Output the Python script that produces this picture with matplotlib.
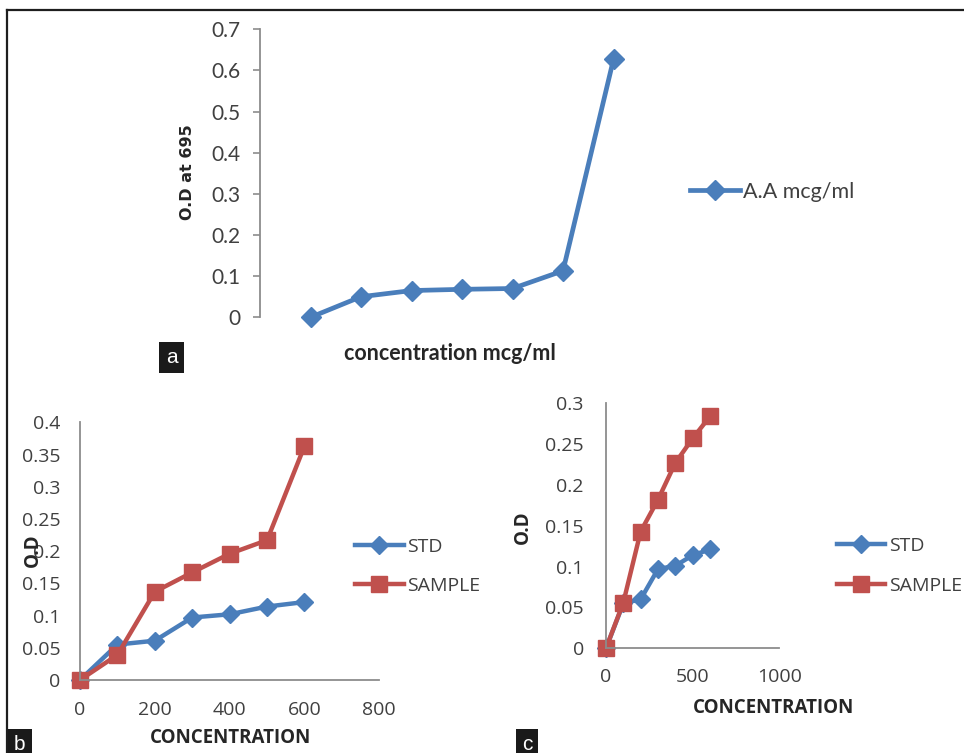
import matplotlib
matplotlib.use('Agg')
import matplotlib.pyplot as plt
from matplotlib.lines import Line2D

# ---- data -------------------------------------------------------------------
# panel a: A.A standard curve (7 points, evenly spaced)
a_x = [1, 2, 3, 4, 5, 6, 7]
a_od = [0.0, 0.050, 0.065, 0.068, 0.070, 0.113, 0.627]

# panel b
b_conc = [0, 100, 200, 300, 400, 500, 600]
b_std = [0.0, 0.055, 0.061, 0.097, 0.102, 0.114, 0.121]
b_sample = [0.0, 0.039, 0.137, 0.167, 0.196, 0.217, 0.363]

# panel c
c_conc = [0, 100, 200, 300, 400, 500, 600]
c_std = [0.0, 0.055, 0.060, 0.097, 0.101, 0.114, 0.121]
c_sample = [0.0, 0.056, 0.143, 0.182, 0.227, 0.257, 0.284]

a_yticks = [0, 0.1, 0.2, 0.3, 0.4, 0.5, 0.6, 0.7]
a_yticklabels = ['0', '0.1', '0.2', '0.3', '0.4', '0.5', '0.6', '0.7']
b_yticks = [0, 0.05, 0.1, 0.15, 0.2, 0.25, 0.3, 0.35, 0.4]
b_yticklabels = ['0', '0.05', '0.1', '0.15', '0.2', '0.25', '0.3', '0.35', '0.4']
b_xticks = [0, 200, 400, 600, 800]
c_yticks = [0, 0.05, 0.1, 0.15, 0.2, 0.25, 0.3]
c_yticklabels = ['0', '0.05', '0.1', '0.15', '0.2', '0.25', '0.3']
c_xticks = [0, 500, 1000]

blue = '#4a7ebb'
red = '#c0504d'
axcol = '#8c8c8c'
txtcol = '#404040'

narrow = ['Lato', 'DejaVu Sans']
wide = ['Open Sans', 'DejaVu Sans']

W, H = 964, 753
fig = plt.figure(figsize=(W / 100, H / 100), dpi=100)


def box(l, t, r, b):
    # pixel box -> figure fraction rect
    return [l / W, 1 - b / H, (r - l) / W, (b - t) / H]


# ---- panel a -------------------------------------------------------------------
ax = fig.add_axes(box(260, 29.3, 664, 317.3))
ax.plot(a_x, a_od, c=blue, lw=3.4, marker='D', ms=10, mfc=blue, mec=blue,
        clip_on=False, label='A.A mcg/ml')
ax.set_xlim(0, 8)
ax.set_ylim(0, 0.7)
ax.set_yticks(a_yticks)
ax.set_yticklabels(a_yticklabels, family=narrow, fontsize=15, color=txtcol)
ax.set_xticks([])
for s in ['top', 'right', 'bottom']:
    ax.spines[s].set_visible(False)
ax.spines['left'].set_color(axcol)
ax.spines['left'].set_linewidth(1.3)
ax.tick_params(axis='y', direction='out', length=5, width=1.2, color=axcol, pad=9)
ax.set_xlabel('concentration mcg/ml', family=narrow, fontsize=15.5, fontweight='bold',
              color='#262626')
ax.xaxis.set_label_coords(0.47, -0.127)
ax.xaxis.label.set_verticalalignment('center')
ax.set_ylabel('O.D at 695', family='DejaVu Sans', fontsize=11.5, fontweight='bold',
              color='#262626')
ax.yaxis.set_label_coords(-0.18, 0.505)
ax.yaxis.label.set_verticalalignment('center')
fig.legend(handles=ax.get_lines(), loc='center left', bbox_to_anchor=(690 / W, 1 - 192 / H),
           frameon=False, borderpad=0, borderaxespad=0, handlelength=2.3,
           handletextpad=0.15, prop={'family': narrow, 'size': 15.5}, labelcolor=txtcol)


def panel(rect, conc, std, sample, xticks, xlim, yticks, yticklabels, ylim,
          xlab_xy, ylab_xy, xpad, ypad, leg_xy):
    ax = fig.add_axes(rect)
    ax.plot(conc, std, c=blue, lw=3.2, marker='D', ms=9, mfc=blue, mec=blue,
            clip_on=False, label='STD')
    ax.plot(conc, sample, c=red, lw=3.2, marker='s', ms=11, mfc=red, mec=red,
            clip_on=False, label='SAMPLE')
    ax.set_xlim(*xlim)
    ax.set_ylim(*ylim)
    ax.set_xticks(xticks)
    ax.set_xticklabels([str(t) for t in xticks], family=wide, fontsize=14, color=txtcol)
    ax.set_yticks(yticks)
    ax.set_yticklabels(yticklabels, family=wide, fontsize=14, color=txtcol)
    for s in ['top', 'right']:
        ax.spines[s].set_visible(False)
    for s in ['left', 'bottom']:
        ax.spines[s].set_color(axcol)
        ax.spines[s].set_linewidth(1.3)
    ax.tick_params(axis='x', length=0, pad=xpad)
    ax.tick_params(axis='y', length=0, pad=ypad)
    ax.set_xlabel('CONCENTRATION', family=wide, fontsize=13.5, fontweight='bold',
                  color='#262626')
    ax.xaxis.set_label_coords(*xlab_xy)
    ax.xaxis.label.set_verticalalignment('center')
    ax.set_ylabel('O.D', family=wide, fontsize=13.5, fontweight='bold', color='#262626')
    ax.yaxis.set_label_coords(*ylab_xy)
    ax.yaxis.label.set_verticalalignment('center')
    fig.legend(handles=ax.get_lines(), loc='center left', bbox_to_anchor=leg_xy,
               frameon=False, borderpad=0, borderaxespad=0, handlelength=2.5,
               handletextpad=0.2, labelspacing=1.1,
               prop={'family': wide, 'size': 14}, labelcolor=txtcol)
    return ax


# ---- panel b -------------------------------------------------------------------
panel(box(80, 422.3, 379.3, 680), b_conc, b_std, b_sample, b_xticks, (0, 800),
      b_yticks, b_yticklabels, (0, 0.4), (0.5045, -0.225), (-0.157, 0.504),
      15, 14, (355 / W, 1 - 566.5 / H))

# ---- panel c -------------------------------------------------------------------
panel(box(606, 403.3, 779.3, 648.3), c_conc, c_std, c_sample, c_xticks, (0, 1000),
      c_yticks, c_yticklabels, (0, 0.3), (0.964, -0.244), (-0.48, 0.496),
      14, 16, (836.7 / W, 1 - 565.9 / H))

# ---- frame lines and panel letters ---------------------------------------------
fig.add_artist(Line2D([7 / W, 1], [1 - 10 / H, 1 - 10 / H], color='#1e1e1e', lw=1.6))
fig.add_artist(Line2D([7 / W, 7 / W], [0, 1 - 10 / H], color='#1e1e1e', lw=1.6))

for letter, px, py in [('a', 171.5, 357.5), ('b', 19.5, 745), ('c', 527, 745)]:
    fig.text(px / W, 1 - py / H, letter, color='white', fontsize=15,
             family='Liberation Sans', ha='center', va='center',
             bbox=dict(boxstyle='square,pad=0.3', fc='#1a1a1a', ec='none'))

fig.savefig('out.png', dpi=100)
